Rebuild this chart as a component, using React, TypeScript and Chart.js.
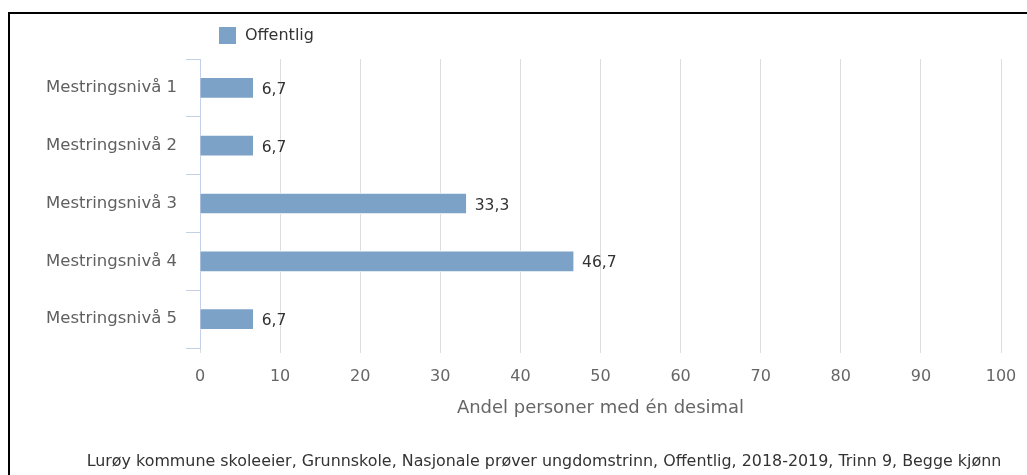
import React, { useEffect, useRef } from "react";
import { Chart, registerables } from "chart.js";

Chart.register(...registerables);

const categories: string[] = [
  "Mestringsnivå 1",
  "Mestringsnivå 2",
  "Mestringsnivå 3",
  "Mestringsnivå 4",
  "Mestringsnivå 5",
];
const seriesLabel = "Offentlig";
const offentligValues: number[] = [6.7, 6.7, 33.3, 46.7, 6.7];
const xMin = 0;
const xMax = 100;
const xStep = 10;
const axisTitle = "Andel personer med én desimal";
const footerText =
  "Lurøy kommune skoleeier, Grunnskole, Nasjonale prøver ungdomstrinn, Offentlig, 2018-2019, Trinn 9, Begge kjønn";

const FONT = "'DejaVu Sans', Verdana, sans-serif";
const BAR_COLOR = "#7ca2c7";

const fmt = (v: number) => v.toFixed(1).replace(".", ",");

const valueLabelPlugin = {
  id: "valueLabels",
  afterDatasetsDraw(chart: any) {
    const ctx = chart.ctx;
    ctx.save();
    ctx.font = `15.5px ${FONT}`;
    ctx.fillStyle = "#333333";
    ctx.textAlign = "left";
    ctx.textBaseline = "middle";
    chart.data.datasets.forEach((ds: any, di: number) => {
      const meta = chart.getDatasetMeta(di);
      meta.data.forEach((el: any, i: number) => {
        ctx.fillText(fmt(ds.data[i]), el.x + 8, el.y + 2);
      });
    });
    ctx.restore();
  },
};

const customLegendPlugin = {
  id: "customLegend",
  afterDraw(chart: any) {
    const ctx = chart.ctx;
    const ds = chart.data.datasets[0];
    ctx.save();
    ctx.fillStyle = ds.backgroundColor;
    ctx.fillRect(219, 27, 17, 17);
    ctx.font = `16px ${FONT}`;
    ctx.fillStyle = "#333333";
    ctx.textAlign = "left";
    ctx.textBaseline = "middle";
    ctx.fillText(ds.label, 245, 36);
    ctx.restore();
  },
};

const footerPlugin = {
  id: "footerText",
  afterDraw(chart: any) {
    const ctx = chart.ctx;
    ctx.save();
    ctx.font = `15.9px ${FONT}`;
    ctx.fillStyle = "#333333";
    ctx.textAlign = "center";
    ctx.textBaseline = "middle";
    ctx.fillText(footerText, 544, 462);
    ctx.restore();
  },
};

export default function App() {
  const canvasRef = useRef<HTMLCanvasElement | null>(null);

  useEffect(() => {
    if (!canvasRef.current) return;
    const chart = new Chart(canvasRef.current, {
      type: "bar",
      data: {
        labels: categories,
        datasets: [
          {
            label: seriesLabel,
            data: offentligValues,
            backgroundColor: BAR_COLOR,
            borderColor: "#ffffff",
            borderWidth: 1,
            barThickness: 21,
          },
        ],
      },
      options: {
        indexAxis: "y",
        animation: false,
        responsive: false,
        maintainAspectRatio: false,
        layout: { padding: { top: 59, right: 26, left: 0, bottom: 56 } },
        plugins: {
          legend: { display: false },
          tooltip: { enabled: false },
          title: { display: false },
        },
        scales: {
          x: {
            min: xMin,
            max: xMax,
            afterFit: (s: any) => {
              s.height = 71;
              s.paddingLeft = 0;
              s.paddingRight = 0;
            },
            ticks: {
              stepSize: xStep,
              color: "#666666",
              font: { family: FONT, size: 16 },
              padding: 14,
            },
            grid: {
              color: "#dddddd",
              lineWidth: 1,
              drawTicks: true,
              tickLength: 5,
            },
            border: { display: false },
            title: {
              display: true,
              text: axisTitle,
              color: "#666666",
              font: { family: FONT, size: 18 },
              padding: { top: 0, bottom: 0 },
            },
          },
          y: {
            afterFit: (s: any) => {
              s.width = 200;
            },
            ticks: {
              color: "#606060",
              font: { family: FONT, size: 16.5 },
              padding: 9,
            },
            grid: {
              drawOnChartArea: false,
              drawTicks: true,
              tickLength: 14,
              color: "#c4d0e8",
              offset: true,
            },
            border: { display: true, color: "#c4d0e8", width: 1 },
          },
        },
      },
      plugins: [valueLabelPlugin, customLegendPlugin, footerPlugin],
    });
    return () => chart.destroy();
  }, []);

  return (
    <div
      style={{
        position: "fixed",
        left: 0,
        top: 0,
        width: 1027,
        height: 475,
        background: "#ffffff",
        overflow: "hidden",
      }}
    >
      <canvas
        ref={canvasRef}
        width={1027}
        height={475}
        style={{ position: "absolute", left: 0, top: 0, width: 1027, height: 475 }}
      />
      <div
        style={{
          position: "absolute",
          left: 8,
          top: 12,
          width: 1100,
          height: 500,
          borderLeft: "2px solid #000",
          borderTop: "2px solid #000",
          pointerEvents: "none",
        }}
      />
    </div>
  );
}
